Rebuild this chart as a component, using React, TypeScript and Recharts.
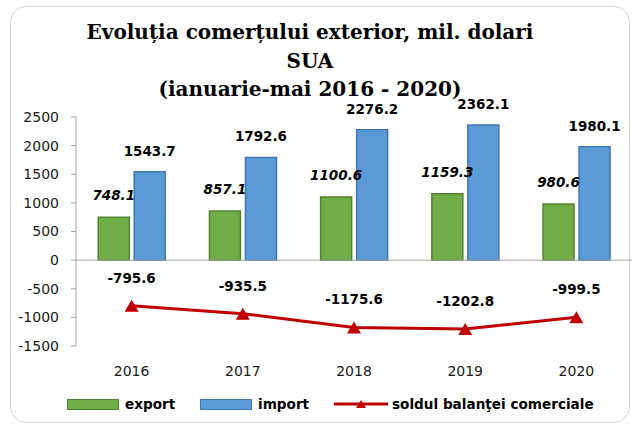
import React from 'react';
import { ComposedChart, Bar, Line, XAxis, YAxis, ReferenceLine, LabelList, Legend } from 'recharts';

const categories = ['2016', '2017', '2018', '2019', '2020'];
const exportValues = [748.1, 857.1, 1100.6, 1159.3, 980.6];
const importValues = [1543.7, 1792.6, 2276.2, 2362.1, 1980.1];
const balanceValues = [-795.6, -935.5, -1175.6, -1202.8, -999.5];
const yTicks = [-1500, -1000, -500, 0, 500, 1000, 1500, 2000, 2500];
const seriesNames = ['export', 'import', 'soldul balanţei comerciale'];
const titleLines = ['Evoluția comerțului exterior, mil. dolari', 'SUA', '(ianuarie-mai 2016 - 2020)'];

const GREEN = '#70ad47';
const GREEN_DARK = '#548235';
const BLUE = '#5b9bd5';
const BLUE_DARK = '#4178b4';
const RED = '#c00000';

const data = categories.map((year, i) => ({
  year,
  exp: exportValues[i],
  imp: importValues[i],
  sold: balanceValues[i],
}));

const SANS = '"DejaVu Sans", sans-serif';

const TriangleDot = (props: any) => {
  const { cx, cy, index } = props;
  if (cx == null || cy == null) return null;
  return (
    <polygon
      key={`tri-${index}`}
      points={`${cx - 7},${cy + 6} ${cx + 7},${cy + 6} ${cx},${cy - 6}`}
      fill={RED}
    />
  );
};

const LegendContent = () => {
  const itemStyle: React.CSSProperties = { display: 'flex', alignItems: 'center' };
  const textStyle: React.CSSProperties = {
    fontFamily: SANS,
    fontWeight: 'bold',
    fontSize: 13.6,
    color: '#000',
    marginLeft: 6,
    whiteSpace: 'nowrap',
  };
  return (
    <div style={{ position: 'relative', width: 635, height: 20, display: 'flex', alignItems: 'center' }}>
      <div style={{ ...itemStyle, position: 'absolute', left: 67, top: 3 }}>
        <div style={{ width: 52, height: 11, background: GREEN, border: `1.5px solid ${GREEN_DARK}`, boxSizing: 'border-box' }} />
        <span style={textStyle}>{seriesNames[0]}</span>
      </div>
      <div style={{ ...itemStyle, position: 'absolute', left: 200, top: 3 }}>
        <div style={{ width: 52, height: 11, background: BLUE, border: `1.5px solid ${BLUE_DARK}`, boxSizing: 'border-box' }} />
        <span style={textStyle}>{seriesNames[1]}</span>
      </div>
      <div style={{ ...itemStyle, position: 'absolute', left: 334, top: 3 }}>
        <svg width={54} height={12}>
          <line x1={0} y1={6} x2={54} y2={6} stroke={RED} strokeWidth={3} />
          <polygon points="22,10 32,10 27,2" fill={RED} />
        </svg>
        <span style={{ ...textStyle, marginLeft: 4 }}>{seriesNames[2]}</span>
      </div>
    </div>
  );
};

export default function App() {
  return (
    <div style={{ position: 'absolute', left: 0, top: 0, width: 635, height: 427, background: '#fff' }}>
      <div
        style={{
          position: 'absolute',
          left: 10,
          top: 6,
          width: 620,
          height: 417,
          border: '1.5px solid #d6d6d6',
          borderRadius: 16,
          boxSizing: 'border-box',
        }}
      />
      <div
        style={{
          position: 'absolute',
          left: 0,
          top: 18,
          width: 620,
          textAlign: 'center',
          fontFamily: '"DejaVu Serif", serif',
          fontWeight: 'bold',
          fontSize: 20,
          lineHeight: '28.5px',
          color: '#000',
        }}
      >
        {titleLines.map((t) => (
          <div key={t}>{t}</div>
        ))}
      </div>
      <div style={{ position: 'absolute', left: 0, top: 0 }}>
        <ComposedChart
          width={635}
          height={427}
          data={data}
          margin={{ top: 117, right: 3, left: 0, bottom: 14 }}
          barCategoryGap="20%"
          barGap={5}
        >
          <XAxis
            dataKey="year"
            axisLine={false}
            tickLine={false}
            height={47}
            tickMargin={14}
            tick={{ fontFamily: SANS, fontSize: 14, fill: '#1a1a1a' }}
          />
          <YAxis
            width={76}
            domain={[-1500, 2500]}
            ticks={yTicks}
            interval={0}
            tickSize={5}
            tickMargin={12}
            axisLine={{ stroke: '#a6a6a6' }}
            tickLine={{ stroke: '#a6a6a6' }}
            tick={{ fontFamily: SANS, fontSize: 14, fill: '#1a1a1a' }}
          />
          <ReferenceLine y={0} stroke="#a6a6a6" strokeWidth={1} />
          <Bar dataKey="exp" name={seriesNames[0]} fill={GREEN} stroke={GREEN_DARK} strokeWidth={1.5} isAnimationActive={false}>
            <LabelList
              dataKey="exp"
              position="top"
              offset={17}
              fill="#000"
              fontFamily={SANS}
              fontSize={13.5}
              fontWeight="bold"
              fontStyle="italic"
            />
          </Bar>
          <Bar dataKey="imp" name={seriesNames[1]} fill={BLUE} stroke={BLUE_DARK} strokeWidth={1.5} isAnimationActive={false}>
            <LabelList
              dataKey="imp"
              position="top"
              offset={16}
              fill="#000"
              fontFamily={SANS}
              fontSize={13.5}
              fontWeight="bold"
            />
          </Bar>
          <Line
            dataKey="sold"
            name={seriesNames[2]}
            stroke={RED}
            strokeWidth={3}
            dot={<TriangleDot />}
            activeDot={false}
            isAnimationActive={false}
          >
            <LabelList
              dataKey="sold"
              position="top"
              offset={23}
              fill="#000"
              fontFamily={SANS}
              fontSize={13.5}
              fontWeight="bold"
            />
          </Line>
          <Legend verticalAlign="bottom" align="left" height={20} content={<LegendContent />} />
        </ComposedChart>
      </div>
    </div>
  );
}
